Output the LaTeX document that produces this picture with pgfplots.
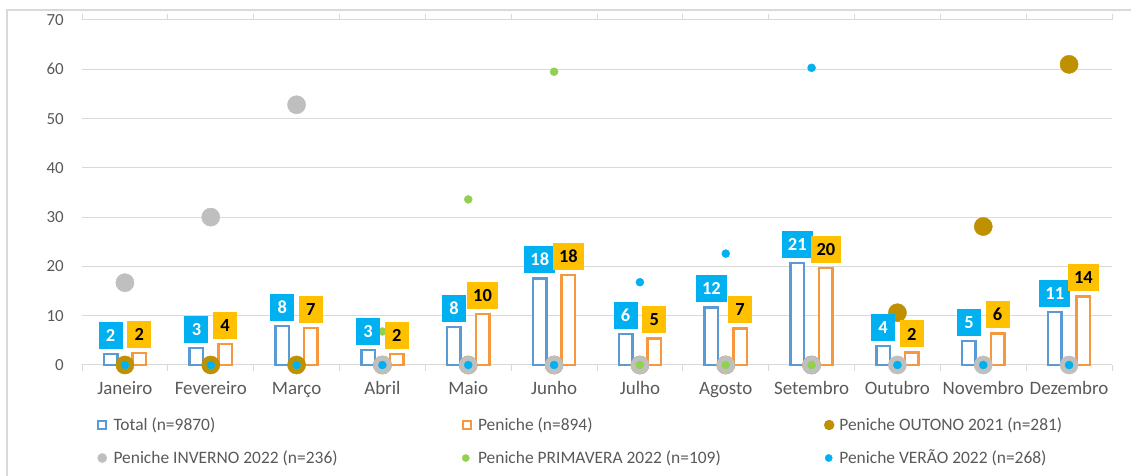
\documentclass[border=0pt]{standalone}
\usepackage{pgfplots}
\pgfplotsset{compat=1.18}
\usepackage{fontspec}
\setmainfont{Carlito}
\definecolor{totalc}{HTML}{5B9BD5}
\definecolor{penc}{HTML}{F8983E}
\definecolor{boxblue}{HTML}{00B0F0}
\definecolor{boxgold}{HTML}{FFC000}
\definecolor{outc}{HTML}{BF9000}
\definecolor{invc}{HTML}{BFBFBF}
\definecolor{prc}{HTML}{92D050}
\definecolor{verc}{HTML}{00B0F0}
\definecolor{gridc}{HTML}{D9D9D9}
\definecolor{txtc}{HTML}{595959}
\newcommand{\lgd}[2]{\makebox[#1][l]{#2}}

\begin{document}
\begin{tikzpicture}
\begin{axis}[
 at={(82bp,111bp)}, anchor=south west,
 scale only axis, width=1030bp, height=345bp,
 xmin=-0.5, xmax=11.5, ymin=0, ymax=70,
 clip=false,
 axis line style={draw=none},
 xtick={0,...,11},
 xticklabels={Janeiro,Fevereiro,Março,Abril,Maio,Junho,Julho,Agosto,Setembro,Outubro,Novembro,Dezembro},
 major tick length=0pt,
 extra x ticks={-0.5,0.5,1.5,2.5,3.5,4.5,5.5,6.5,7.5,8.5,9.5,10.5,11.5},
 extra x tick labels={},
 extra x tick style={major tick length=6bp, tick align=outside, major tick style={draw=gridc, line width=1bp}},
 ytick={0,10,...,70},
 ymajorgrids,
 major grid style={draw=gridc, line width=1bp},
 xticklabel style={font=\fontsize{19}{19}\selectfont, text=txtc, anchor=base, yshift=-30bp, inner sep=0pt},
 yticklabel style={font=\fontsize{17}{17}\selectfont, text=txtc, anchor=east, inner sep=0pt, xshift=-18bp},
 /pgf/number format/assume math mode=true,
 legend columns=3,
 legend style={at={(0.0136,-0.1261)}, anchor=north west, draw=none, fill=none, inner sep=0pt, outer sep=0pt,
   font=\fontsize{17.5}{17.5}\selectfont, text=txtc,
   nodes={inner sep=0pt, outer sep=0pt, text height=22.1bp, text depth=10.9bp, anchor=west},
   cells={anchor=west}, column sep=0pt, row sep=0pt},
]
% bars
\addplot[ybar, bar width=13.5bp, bar shift=-14.3bp, draw=totalc, fill=white, line width=2.5bp,
  legend image code/.code={\draw[draw=totalc, fill=white, line width=2.2bp] (1.1bp,-3.9bp) rectangle (8.9bp,3.9bp); \path (0,0) (15bp,0);}]
 coordinates {(0,2.2) (1,3.4) (2,7.9) (3,3.0) (4,7.7) (5,17.6) (6,6.3) (7,11.7) (8,20.7) (9,3.9) (10,4.9) (11,10.8)};
\addlegendentry{\lgd{347bp}{Total (n=9870)}}
\addplot[ybar, bar width=13.5bp, bar shift=14.3bp, draw=penc, fill=white, line width=2.5bp,
  legend image code/.code={\draw[draw=penc, fill=white, line width=2.2bp] (1.1bp,-3.9bp) rectangle (8.9bp,3.9bp); \path (0,0) (15bp,0);}]
 coordinates {(0,2.4) (1,4.3) (2,7.5) (3,2.2) (4,10.3) (5,18.3) (6,5.4) (7,7.4) (8,19.7) (9,2.5) (10,6.4) (11,13.9)};
\addlegendentry{\lgd{346bp}{Peniche (n=894)}}
% scatter series
\addplot[only marks, mark=*, color=outc, mark size=9.1bp, mark options={fill=outc, draw=outc}, 
  legend image code/.code={\fill[outc] (5bp,0) circle (5bp); \path (0,0) (15bp,0);}]
 coordinates {(0,0) (1,0) (2,0) (3,0) (4,0) (5,0) (6,0) (7,0) (8,0) (9,10.6) (10,28.1) (11,61.0)};
\addlegendentry{\lgd{250bp}{Peniche OUTONO 2021 (n=281)}}
\addplot[only marks, mark=*, color=invc, mark size=9.1bp, mark options={fill=invc, draw=invc},
  legend image code/.code={\fill[invc] (5bp,0) circle (4.6bp); \path (0,0) (15bp,0);}]
 coordinates {(0,16.7) (1,30.0) (2,52.8) (3,0) (4,0) (5,0) (6,0) (7,0) (8,0) (9,0) (10,0) (11,0)};
\addlegendentry{\lgd{347bp}{Peniche INVERNO 2022 (n=236)}}
\addplot[only marks, mark=*, color=prc, mark size=4bp, mark options={fill=prc, draw=prc},
  legend image code/.code={\fill[prc] (4bp,0) circle (3.6bp); \path (0,0) (15bp,0);}]
 coordinates {(0,0) (1,0) (2,0) (3,6.8) (4,33.6) (5,59.5) (6,0) (7,0) (8,0) (9,0) (10,0) (11,0)};
\addlegendentry{\lgd{346bp}{Peniche PRIMAVERA 2022 (n=109)}}
\addplot[only marks, mark=*, color=verc, mark size=4bp, mark options={fill=verc, draw=verc},
  legend image code/.code={\fill[verc] (4.5bp,0) circle (3.6bp); \path (0,0) (15bp,0);}]
 coordinates {(0,0) (1,0) (2,0) (3,0) (4,0) (5,0) (6,16.8) (7,22.6) (8,60.3) (9,0) (10,0) (11,0)};
\addlegendentry{\lgd{250bp}{Peniche VERÃO 2022 (n=268)}}
% data labels
\addplot[draw=none, no markers, forget plot, nodes near coords, point meta=explicit symbolic,
  nodes near coords style={anchor=south, yshift=5bp, xshift=-14.3bp, fill=boxblue, text=white,
   font=\bfseries\fontsize{18.5}{18.5}\selectfont, inner xsep=6bp, inner ysep=0pt, minimum width=24bp, minimum height=27bp}]
 coordinates {(0,2.2)[2] (1,3.4)[3] (2,7.9)[8] (3,3.0)[3] (4,7.7)[8] (5,17.6)[18] (6,6.3)[6] (7,11.7)[12] (8,20.7)[21] (9,3.9)[4] (10,4.9)[5] (11,10.8)[11]};
\addplot[draw=none, no markers, forget plot, nodes near coords, point meta=explicit symbolic,
  nodes near coords style={anchor=south, yshift=5bp, xshift=14.3bp, fill=boxgold, text=black,
   font=\bfseries\fontsize{18.5}{18.5}\selectfont, inner xsep=6bp, inner ysep=0pt, minimum width=24bp, minimum height=27bp}]
 coordinates {(0,2.4)[2] (1,4.3)[4] (2,7.5)[7] (3,2.2)[2] (4,10.3)[10] (5,18.3)[18] (6,5.4)[5] (7,7.4)[7] (8,19.7)[20] (9,2.5)[2] (10,6.4)[6] (11,13.9)[14]};
\end{axis}
\pgfresetboundingbox
\path[use as bounding box] (0,0) rectangle (1131bp,476bp);
\draw[gridc, line width=1.2bp] (7bp,-10bp) rectangle (1150bp,466bp);
\end{tikzpicture}
\end{document}
